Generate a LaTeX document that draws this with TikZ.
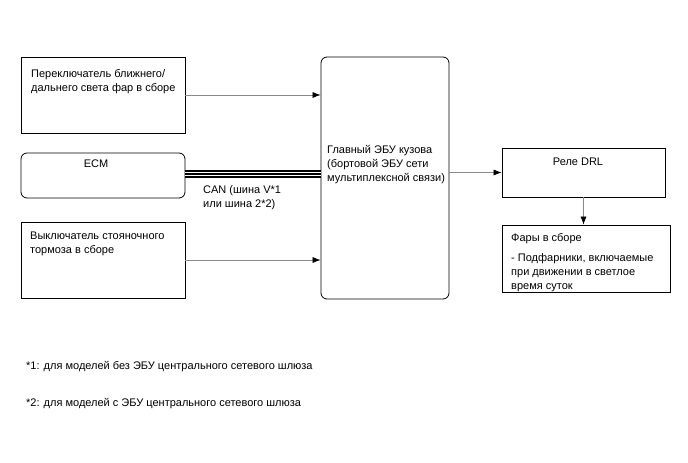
\documentclass[tikz,border=0pt]{standalone}
\usepackage{fontspec}
\setmainfont{Liberation Sans}
\usepackage{tikz}
\usetikzlibrary{arrows.meta}
\definecolor{linkgray}{HTML}{8A8A8A}
\tikzset{
  box/.style={draw=black, line width=0.8pt, inner sep=0pt},
  rbox/.style={box, rounded corners=6pt},
  link/.style={draw=linkgray, line width=0.6pt, -{Latex[length=8pt, width=6pt, black]}},
  bus/.style={draw=black, line width=1.1pt,
    preaction={draw=black, line width=7.4pt},
    preaction={draw=white, line width=4.2pt}},
  lbl/.style={font=\fontsize{11}{14.2}\selectfont, anchor=west, inner sep=0pt, align=left},
}

\begin{document}
\begin{tikzpicture}[x=1pt, y=-1pt]

  \useasboundingbox (0,0) rectangle (688,463);

  % blocks
  \node[box, minimum width=164pt, minimum height=76pt] (sw) at (103,95) {};
  \node[rbox, minimum width=164pt, minimum height=45pt] (ecm) at (103,175.5) {};
  \node[box, minimum width=164pt, minimum height=76pt] (brk) at (103,260) {};
  \node[rbox, minimum width=128pt, minimum height=242pt] (bcm) at (385,178) {};
  \node[box, minimum width=163pt, minimum height=49pt] (drl) at (583.5,172.5) {};
  \node[box, minimum width=168pt, minimum height=67pt] (hl) at (586,258.5) {};

  % texts
  \node[lbl] (swt) at (31,82) {Переключатель ближнего/\\дальнего света фар в сборе};
  \node[lbl, anchor=center] (ecmt) at (96,164) {ECM};
  \node[lbl] (brkt) at (30,244) {Выключатель стояночного\\тормоза в сборе};
  \node[lbl] (bcmt) at (327,164.5) {Главный ЭБУ кузова\\(бортовой ЭБУ сети\\мультиплексной связи)};
  \node[lbl, anchor=center] (drlt) at (578,162) {Реле DRL};
  \node[lbl] (hlt) at (511,239) {Фары в сборе};
  \node[lbl] (hld) at (511,272.5) {- Подфарники, включаемые\\при движении в светлое\\время суток};
  \node[lbl] (cant) at (203,197.5) {CAN (шина V*1\\или шина 2*2)};

  % connectors
  \draw[link] (sw.east) -- (sw.east -| bcm.west);
  \draw[link] (brk.east) -- (brk.east -| bcm.west);
  \draw[bus] ([yshift=1.5pt]ecm.east) -- ([yshift=1.5pt]ecm.east -| bcm.west);
  \draw[link] (bcm.east |- drl.west) -- (drl.west);
  \draw[link] (drl.south) -- (drl.south |- hl.north);

  % notes
  \node[lbl] (n1) at (26,367) {*1: для моделей без ЭБУ центрального сетевого шлюза};
  \node[lbl] (n2) at (26,404) {*2: для моделей с ЭБУ центрального сетевого шлюза};

\end{tikzpicture}
\end{document}
